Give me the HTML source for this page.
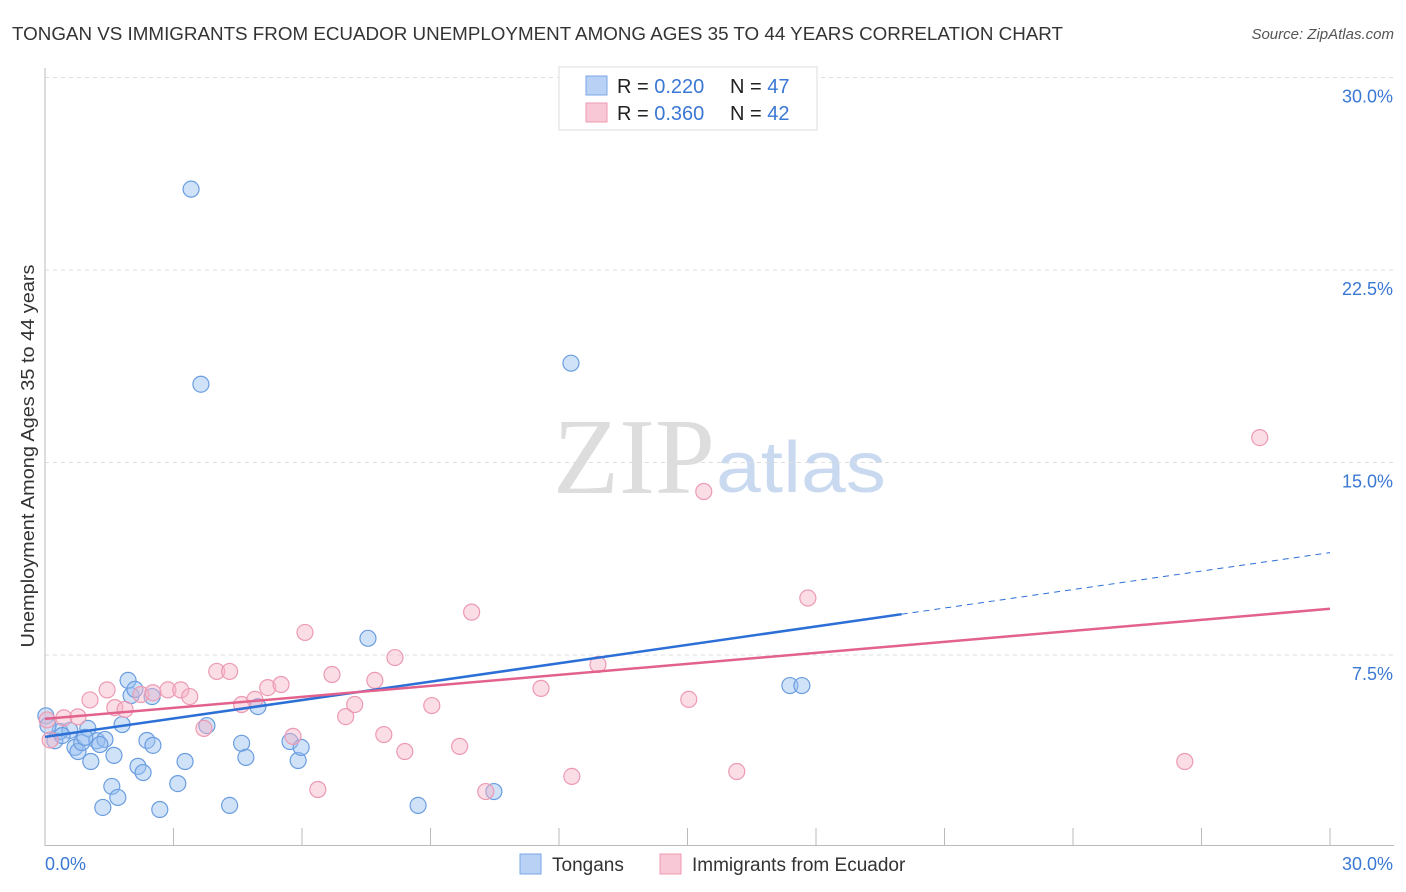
<!DOCTYPE html>
<html><head><meta charset="utf-8"><style>
body{margin:0;background:#fff;font-family:"Liberation Sans",sans-serif;}
svg{display:block}
</style></head><body>
<svg id="chart" width="1406" height="892" xmlns="http://www.w3.org/2000/svg">
<text x="12" y="40" font-size="18" fill="#333" textLength="1051" lengthAdjust="spacingAndGlyphs">TONGAN VS IMMIGRANTS FROM ECUADOR UNEMPLOYMENT AMONG AGES 35 TO 44 YEARS CORRELATION CHART</text>
<text x="1394" y="39" font-size="15" fill="#555" font-style="italic" text-anchor="end">Source: ZipAtlas.com</text>
<text x="553" y="493" font-size="108" fill="#ddd" font-family="Liberation Serif,serif" textLength="162" lengthAdjust="spacingAndGlyphs">ZIP</text>
<text x="716" y="492" font-size="72" fill="#c9daf0" textLength="170" lengthAdjust="spacingAndGlyphs">atlas</text>
<text transform="translate(34,456) rotate(-90)" font-size="18" fill="#333" text-anchor="middle" textLength="383" lengthAdjust="spacingAndGlyphs">Unemployment Among Ages 35 to 44 years</text>
<g id="grid"></g><g id="marks"></g>
<g>
<rect x="559" y="67" width="258" height="63" fill="#fff" stroke="#ddd"/>
<rect x="586" y="76" width="21" height="19" fill="#b8d1f5" stroke="#7aa7e6"/>
<rect x="586" y="103" width="21" height="19" fill="#f9c8d6" stroke="#ee9ab3"/>
<text x="617" y="93" font-size="20" fill="#222">R = <tspan fill="#3a78d4">0.220</tspan><tspan x="730">N = </tspan><tspan fill="#3a78d4">47</tspan></text>
<text x="617" y="120" font-size="20" fill="#222">R = <tspan fill="#3a78d4">0.360</tspan><tspan x="730">N = </tspan><tspan fill="#3a78d4">42</tspan></text>
</g>
<g>
<rect x="520" y="854" width="21" height="20" fill="#b8d1f5" stroke="#7aa7e6"/>
<text x="552" y="871" font-size="19" fill="#333">Tongans</text>
<rect x="660" y="854" width="21" height="20" fill="#f9c8d6" stroke="#ee9ab3"/>
<text x="692" y="871" font-size="19" fill="#333">Immigrants from Ecuador</text>
</g>
</svg>
<script>
const yTicks=[7.5,15,22.5,30];
const yTickLabels=["7.5%","15.0%","22.5%","30.0%"];
const xTicks=[3,6,9,12,15,18,21,24,27,30];
const tonganX=[0.02,0.23,0.35,0.58,0.70,0.77,0.86,1.00,1.07,1.21,1.35,1.40,1.56,1.61,1.70,1.80,1.94,2.01,2.17,2.29,2.38,2.52,2.50,2.68,3.10,3.27,3.41,3.64,3.78,4.31,4.59,4.69,4.97,5.72,5.91,5.98,7.54,8.71,10.48,12.28,17.39,17.67,0.40,0.07,2.10,1.28,0.93];
const tonganY=[5.13,4.16,4.52,4.56,3.90,3.74,4.09,4.64,3.35,4.16,1.56,4.21,2.38,3.59,1.95,4.79,6.51,5.92,3.16,2.92,4.17,3.98,5.88,1.48,2.49,3.35,25.65,18.05,4.75,1.64,4.06,3.51,5.49,4.13,3.39,3.90,8.15,1.64,2.18,18.87,6.31,6.31,4.36,4.75,6.16,4.01,4.29];
const ecuX=[0.05,0.12,0.44,0.77,1.05,1.45,1.63,1.87,2.24,2.52,2.87,3.17,3.38,3.71,4.01,4.31,4.59,4.90,5.20,5.51,5.79,6.07,6.37,6.70,7.02,7.23,7.70,7.91,8.17,8.40,9.03,9.68,9.96,10.29,11.58,12.30,12.91,15.03,15.38,16.15,17.81,26.61,28.36];
const ecuY=[4.97,4.19,5.05,5.09,5.75,6.14,5.45,5.38,5.96,6.03,6.14,6.14,5.88,4.64,6.86,6.86,5.57,5.77,6.23,6.35,4.33,8.38,2.26,6.74,5.10,5.57,6.51,4.40,7.40,3.74,5.53,3.94,9.17,2.18,6.20,2.77,7.13,5.77,13.87,2.96,9.72,3.35,15.97];
const tonganTrend=[0,4.31,20,9.09,30,11.49];
const ecuTrend=[0,5.01,30,9.30];
const NS="http://www.w3.org/2000/svg";
const X=v=>45+v/30*1285, Y=v=>847.5-v/7.5*192.5;
function mk(t,a,p){const e=document.createElementNS(NS,t);for(const k in a)e.setAttribute(k,a[k]);p.appendChild(e);return e;}
const g=document.getElementById('grid'),m=document.getElementById('marks');
yTicks.forEach((v,i)=>{
 const l=mk('line',{x1:45,x2:1394,y1:Y(v),y2:Y(v),stroke:'#ddd','stroke-dasharray':'4,4'},g);
 
 
 const t=mk('text',{x:1393,y:Y(v)+25,'font-size':18,fill:'#3a78d4','text-anchor':'end'},g);
 t.textContent=yTickLabels[i];
 
 
});
const ax=mk('line',{x1:45,x2:45,y1:68,y2:846,stroke:'#bbb'},g);


const bx=mk('line',{x1:45,x2:1394,y1:845.5,y2:845.5,stroke:'#bbb'},g);


xTicks.forEach(v=>{const l=mk('line',{x1:X(v),x2:X(v),y1:828,y2:846,stroke:'#bbb'},g);
 
 });
[[45,'start','0.0%'],[1393,'end','30.0%']].forEach(a=>{const t=mk('text',{x:a[0],y:870,'font-size':18,fill:'#3a78d4','text-anchor':a[1]},g);t.textContent=a[2];
 
 });
tonganX.forEach((v,i)=>{const c=mk('circle',{cx:X(v),cy:Y(tonganY[i]),r:8,fill:'rgba(150,190,240,0.45)',stroke:'#6a9de0','stroke-width':1.2},m);
 
 });
ecuX.forEach((v,i)=>{const c=mk('circle',{cx:X(v),cy:Y(ecuY[i]),r:8,fill:'rgba(246,180,200,0.45)',stroke:'#ec9ab3','stroke-width':1.2},m);
 
 });
const t1=mk('line',{x1:X(tonganTrend[0]),y1:Y(tonganTrend[1]),x2:X(tonganTrend[2]),y2:Y(tonganTrend[3]),stroke:'#2c6fd6','stroke-width':2.5},m);


const t2=mk('line',{x1:X(tonganTrend[2]),y1:Y(tonganTrend[3]),x2:X(tonganTrend[4]),y2:Y(tonganTrend[5]),stroke:'#2c6fd6','stroke-width':1,'stroke-dasharray':'6,5'},m);


const t3=mk('line',{x1:X(ecuTrend[0]),y1:Y(ecuTrend[1]),x2:X(ecuTrend[2]),y2:Y(ecuTrend[3]),stroke:'#e2628d','stroke-width':2.5},m);


</script>
</body></html>
